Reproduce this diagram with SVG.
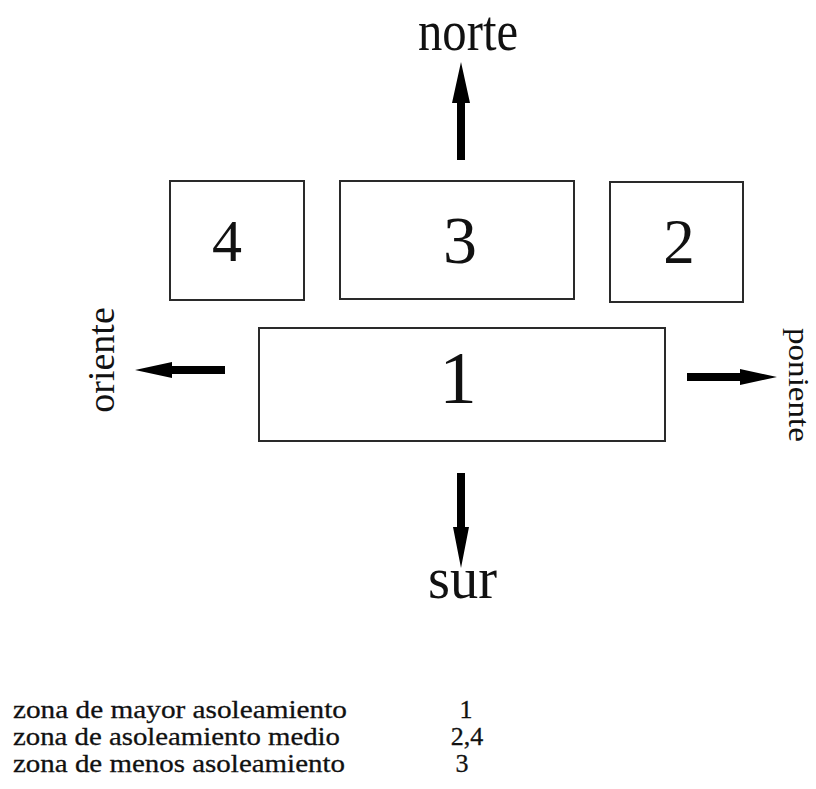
<svg xmlns="http://www.w3.org/2000/svg" width="816" height="789" viewBox="0 0 816 789">
<style>
.box{fill:#fff;stroke:#2a2a2a;stroke-width:2}
.t{font-family:"Liberation Serif","Times New Roman",serif;fill:#111}
.lg{stroke:#111;stroke-width:0.3}
.arr{fill:#000}
</style>
<rect width="816" height="789" fill="#fff"/>
<g id="zona4"><rect class="box" x="170" y="181" width="134" height="119"/><text class="t" x="227" y="261" font-size="60" text-anchor="middle">4</text></g>
<g id="zona3"><rect class="box" x="340" y="181" width="234" height="118"/><text class="t" x="460" y="263" font-size="68" text-anchor="middle">3</text></g>
<g id="zona2"><rect class="box" x="610" y="182" width="133" height="120"/><text class="t" x="679" y="263" font-size="63" text-anchor="middle">2</text></g>
<g id="zona1"><rect class="box" x="259" y="328" width="406" height="113"/><text class="t" x="458" y="403" font-size="75" text-anchor="middle">1</text></g>
<g id="connectors">
<path class="arr" d="M457,160 V103 H452 L461,62 L470,103 H465 V160 Z"/>
<path class="arr" d="M457,473 V527 H453 L461,568 L469,527 H465 V473 Z"/>
<path class="arr" d="M225,366 H172 V362 L135,370 L172,378 V374 H225 Z"/>
<path class="arr" d="M687,373 H740 V369 L777,377 L740,385 V381 H687 Z"/>
</g>
<g id="labels">
<text class="t" x="418" y="50" font-size="56" textLength="100" lengthAdjust="spacingAndGlyphs">norte</text>
<text class="t" x="428" y="598" font-size="60" textLength="69" lengthAdjust="spacingAndGlyphs">sur</text>
<text class="t" font-size="38" text-anchor="middle" transform="translate(114,360) rotate(-90)">oriente</text>
<text class="t" font-size="30" text-anchor="middle" transform="translate(789,385) rotate(90)" textLength="114" lengthAdjust="spacingAndGlyphs">poniente</text>
</g>
<g id="legend" font-size="26">
<text class="t lg" x="13" y="718" textLength="334" lengthAdjust="spacingAndGlyphs">zona de mayor asoleamiento</text>
<text class="t lg" x="13" y="745" textLength="327" lengthAdjust="spacingAndGlyphs">zona de asoleamiento medio</text>
<text class="t lg" x="13" y="772" textLength="332" lengthAdjust="spacingAndGlyphs">zona de menos asoleamiento</text>
<text class="t lg" x="466" y="718" text-anchor="middle">1</text>
<text class="t lg" x="467" y="745" text-anchor="middle">2,4</text>
<text class="t lg" x="462" y="772" text-anchor="middle">3</text>
</g>
</svg>
